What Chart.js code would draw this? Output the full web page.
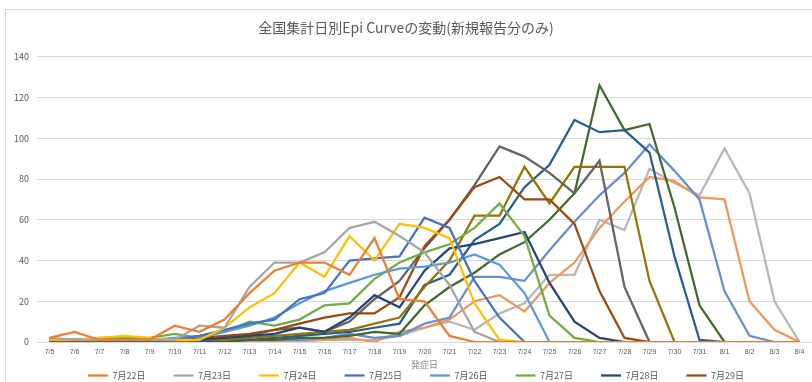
<!DOCTYPE html>
<html lang="ja">
<head>
<meta charset="utf-8">
<title>全国集計日別Epi Curveの変動</title>
<script src="https://cdn.jsdelivr.net/npm/chart.js@4.4.1/dist/chart.umd.min.js"></script>
<style>
  html, body { margin: 0; padding: 0; background: #fff; }
  #wrap { position: relative; width: 812px; height: 382px; overflow: hidden; }
  #frame { position: absolute; left: 5px; top: 9px; width: 900px; height: 500px; border: 1px solid #d9d9d9; box-sizing: border-box; }
  canvas { position: absolute; left: 0; top: 0; }
</style>
</head>
<body>
<div id="wrap">
  <div id="frame"></div>
  <canvas id="epi" width="812" height="382"></canvas>
</div>
<script>
// 発症日 (x軸)
const onsetDates = ['7/5', '7/6', '7/7', '7/8', '7/9', '7/10', '7/11', '7/12', '7/13', '7/14',
  '7/15', '7/16', '7/17', '7/18', '7/19', '7/20', '7/21', '7/22', '7/23', '7/24', '7/25',
  '7/26', '7/27', '7/28', '7/29', '7/30', '7/31', '8/1', '8/2', '8/3', '8/4'];

// 報告日ごとの系列名
const reportDays = ['7月22日', '7月23日', '7月24日', '7月25日', '7月26日', '7月27日', '7月28日',
  '7月29日', '7月30日', '7月31日', '8月1日', '8月2日', '8月3日', '8月4日', '8月5日'];

// 報告日ごとの新規報告数 (発症日別)
const r0722 = [2, 5, 1, 1, 1, 8, 5, 11, 24, 35, 39, 39, 33, 51, 21, 20, 3, 0, 0, 0, 0, 0, 0, 0, 0, 0, 0, 0, 0, 0, 0];
const r0723 = [2, 1, 1, 1, 1, 1, 8, 7, 27, 39, 39, 44, 56, 59, 52, 44, 28, 5, 0, 0, 0, 0, 0, 0, 0, 0, 0, 0, 0, 0, 0];
const r0724 = [1, 1, 2, 3, 2, 1, 1, 7, 17, 24, 39, 32, 52, 40, 58, 56, 51, 19, 1, 0, 0, 0, 0, 0, 0, 0, 0, 0, 0, 0, 0];
const r0725 = [1, 1, 1, 1, 1, 1, 3, 6, 9, 11, 21, 24, 40, 41, 42, 61, 56, 30, 12, 0, 0, 0, 0, 0, 0, 0, 0, 0, 0, 0, 0];
const r0726 = [1, 1, 1, 1, 1, 2, 3, 5, 8, 12, 19, 25, 29, 33, 36, 37, 39, 43, 38, 24, 0, 0, 0, 0, 0, 0, 0, 0, 0, 0, 0];
const r0727 = [1, 1, 2, 2, 2, 4, 2, 5, 10, 8, 11, 18, 19, 31, 39, 44, 48, 56, 68, 52, 13, 2, 0, 0, 0, 0, 0, 0, 0, 0, 0];
const r0728 = [1, 1, 1, 1, 1, 1, 1, 2, 3, 4, 7, 5, 12, 23, 17, 35, 46, 48, 51, 54, 29, 10, 2, 0, 0, 0, 0, 0, 0, 0, 0];
const r0729 = [0, 0, 1, 1, 1, 1, 2, 3, 4, 6, 9, 12, 14, 14, 22, 47, 60, 76, 81, 70, 70, 58, 25, 2, 0, 0, 0, 0, 0, 0, 0];
const r0730 = [0, 0, 0, 0, 0, 1, 1, 2, 3, 6, 7, 5, 10, 21, 30, 46, 60, 77, 96, 91, 83, 73, 89, 27, 0, 0, 0, 0, 0, 0, 0];
const r0731 = [0, 0, 0, 0, 0, 0, 1, 1, 2, 3, 4, 5, 6, 9, 12, 27, 40, 62, 62, 86, 68, 86, 86, 86, 30, 0, 0, 0, 0, 0, 0];
const r0801 = [0, 0, 0, 0, 0, 0, 0, 1, 1, 2, 3, 4, 5, 7, 9, 28, 33, 50, 58, 76, 87, 109, 103, 104, 93, 42, 1, 0, 0, 0, 0];
const r0802 = [0, 0, 0, 0, 0, 0, 0, 0, 1, 1, 2, 2, 3, 5, 4, 18, 27, 34, 43, 49, 60, 73, 126, 104, 107, 66, 18, 0, 0, 0, 0];
const r0803 = [0, 0, 0, 0, 0, 0, 0, 0, 1, 1, 1, 2, 4, 2, 3, 9, 12, 32, 32, 30, 45, 59, 72, 83, 97, 84, 70, 25, 3, 0, 0];
const r0804 = [0, 0, 0, 0, 0, 0, 0, 0, 0, 0, 1, 1, 2, 0, 5, 7, 11, 20, 23, 15, 29, 39, 56, 69, 81, 79, 71, 70, 20, 6, 0];
const r0805 = [0, 0, 0, 0, 0, 0, 0, 0, 0, 0, 0, 1, 1, 1, 3, 7, 10, 6, 14, 19, 33, 33, 60, 55, 85, 78, 72, 95, 73, 20, 0];

const series = [r0722, r0723, r0724, r0725, r0726, r0727, r0728, r0729,
  r0730, r0731, r0801, r0802, r0803, r0804, r0805];

const lineColors = ['#ED7D31', '#A5A5A5', '#FFC000', '#4472C4', '#5B9BD5', '#70AD47', '#264478',
  '#9E480E', '#636363', '#997300', '#255E91', '#43682B', '#698ED0', '#F1975A', '#B7B7B7'];

const textColor = '#595959';
const gridColor = '#d9d9d9';
const jpFont = "'Noto Sans CJK JP', 'Noto Sans', sans-serif";

// 凡例は8件分の行だけ表示し、軸ラベルの下まで描画範囲を広げる
const legendShift = {
  id: 'legendShift',
  afterLayout(chart) {
    const lg = chart.legend;
    lg.top -= 25;
    lg.left += 10; lg.right += 10;
  }
};

new Chart(document.getElementById('epi'), {
  type: 'line',
  data: {
    labels: onsetDates,
    datasets: series.map((values, i) => ({
      label: reportDays[i],
      data: values,
      borderColor: lineColors[i],
      backgroundColor: lineColors[i],
      borderWidth: 2.25,
      pointRadius: 0,
      tension: 0,
      fill: false
    }))
  },
  options: {
    responsive: false,
    animation: false,
    devicePixelRatio: 1,
    layout: { padding: 0 },
    scales: {
      x: {
        offset: true,
        grid: { display: false, drawTicks: false },
        border: { color: gridColor },
        ticks: {
          color: textColor,
          font: { family: "'Liberation Sans Narrow', 'Liberation Sans', sans-serif", size: 7 },
          padding: 6,
          maxRotation: 0,
          autoSkip: false
        },
        title: {
          display: true,
          text: '発症日',
          color: '#8c8c8c',
          font: { family: jpFont, size: 9 },
          padding: { top: 1, bottom: -2 }
        },
        afterFit(scale) { scale.height = 26; }
      },
      y: {
        min: 0,
        max: 140,
        grid: { color: gridColor, drawTicks: false },
        border: { display: false },
        ticks: {
          stepSize: 20,
          color: textColor,
          font: { family: jpFont, size: 9 },
          padding: 8
        },
        afterFit(scale) { scale.width = 37; }
      }
    },
    plugins: {
      title: {
        display: true,
        text: '全国集計日別Epi Curveの変動(新規報告分のみ)',
        color: textColor,
        font: { family: jpFont, size: 14, weight: 'normal' },
        padding: { top: 19, bottom: 21 }
      },
      legend: {
        position: 'bottom',
        maxHeight: 14,
        labels: {
          filter: (item) => item.datasetIndex < 8,
          usePointStyle: true,
          pointStyle: 'line',
          pointStyleWidth: 20,
          boxWidth: 20,
          padding: 28,
          color: textColor,
          font: { family: jpFont, size: 9 }
        }
      },
      tooltip: { enabled: false }
    }
  },
  plugins: [legendShift]
});
</script>
</body>
</html>
